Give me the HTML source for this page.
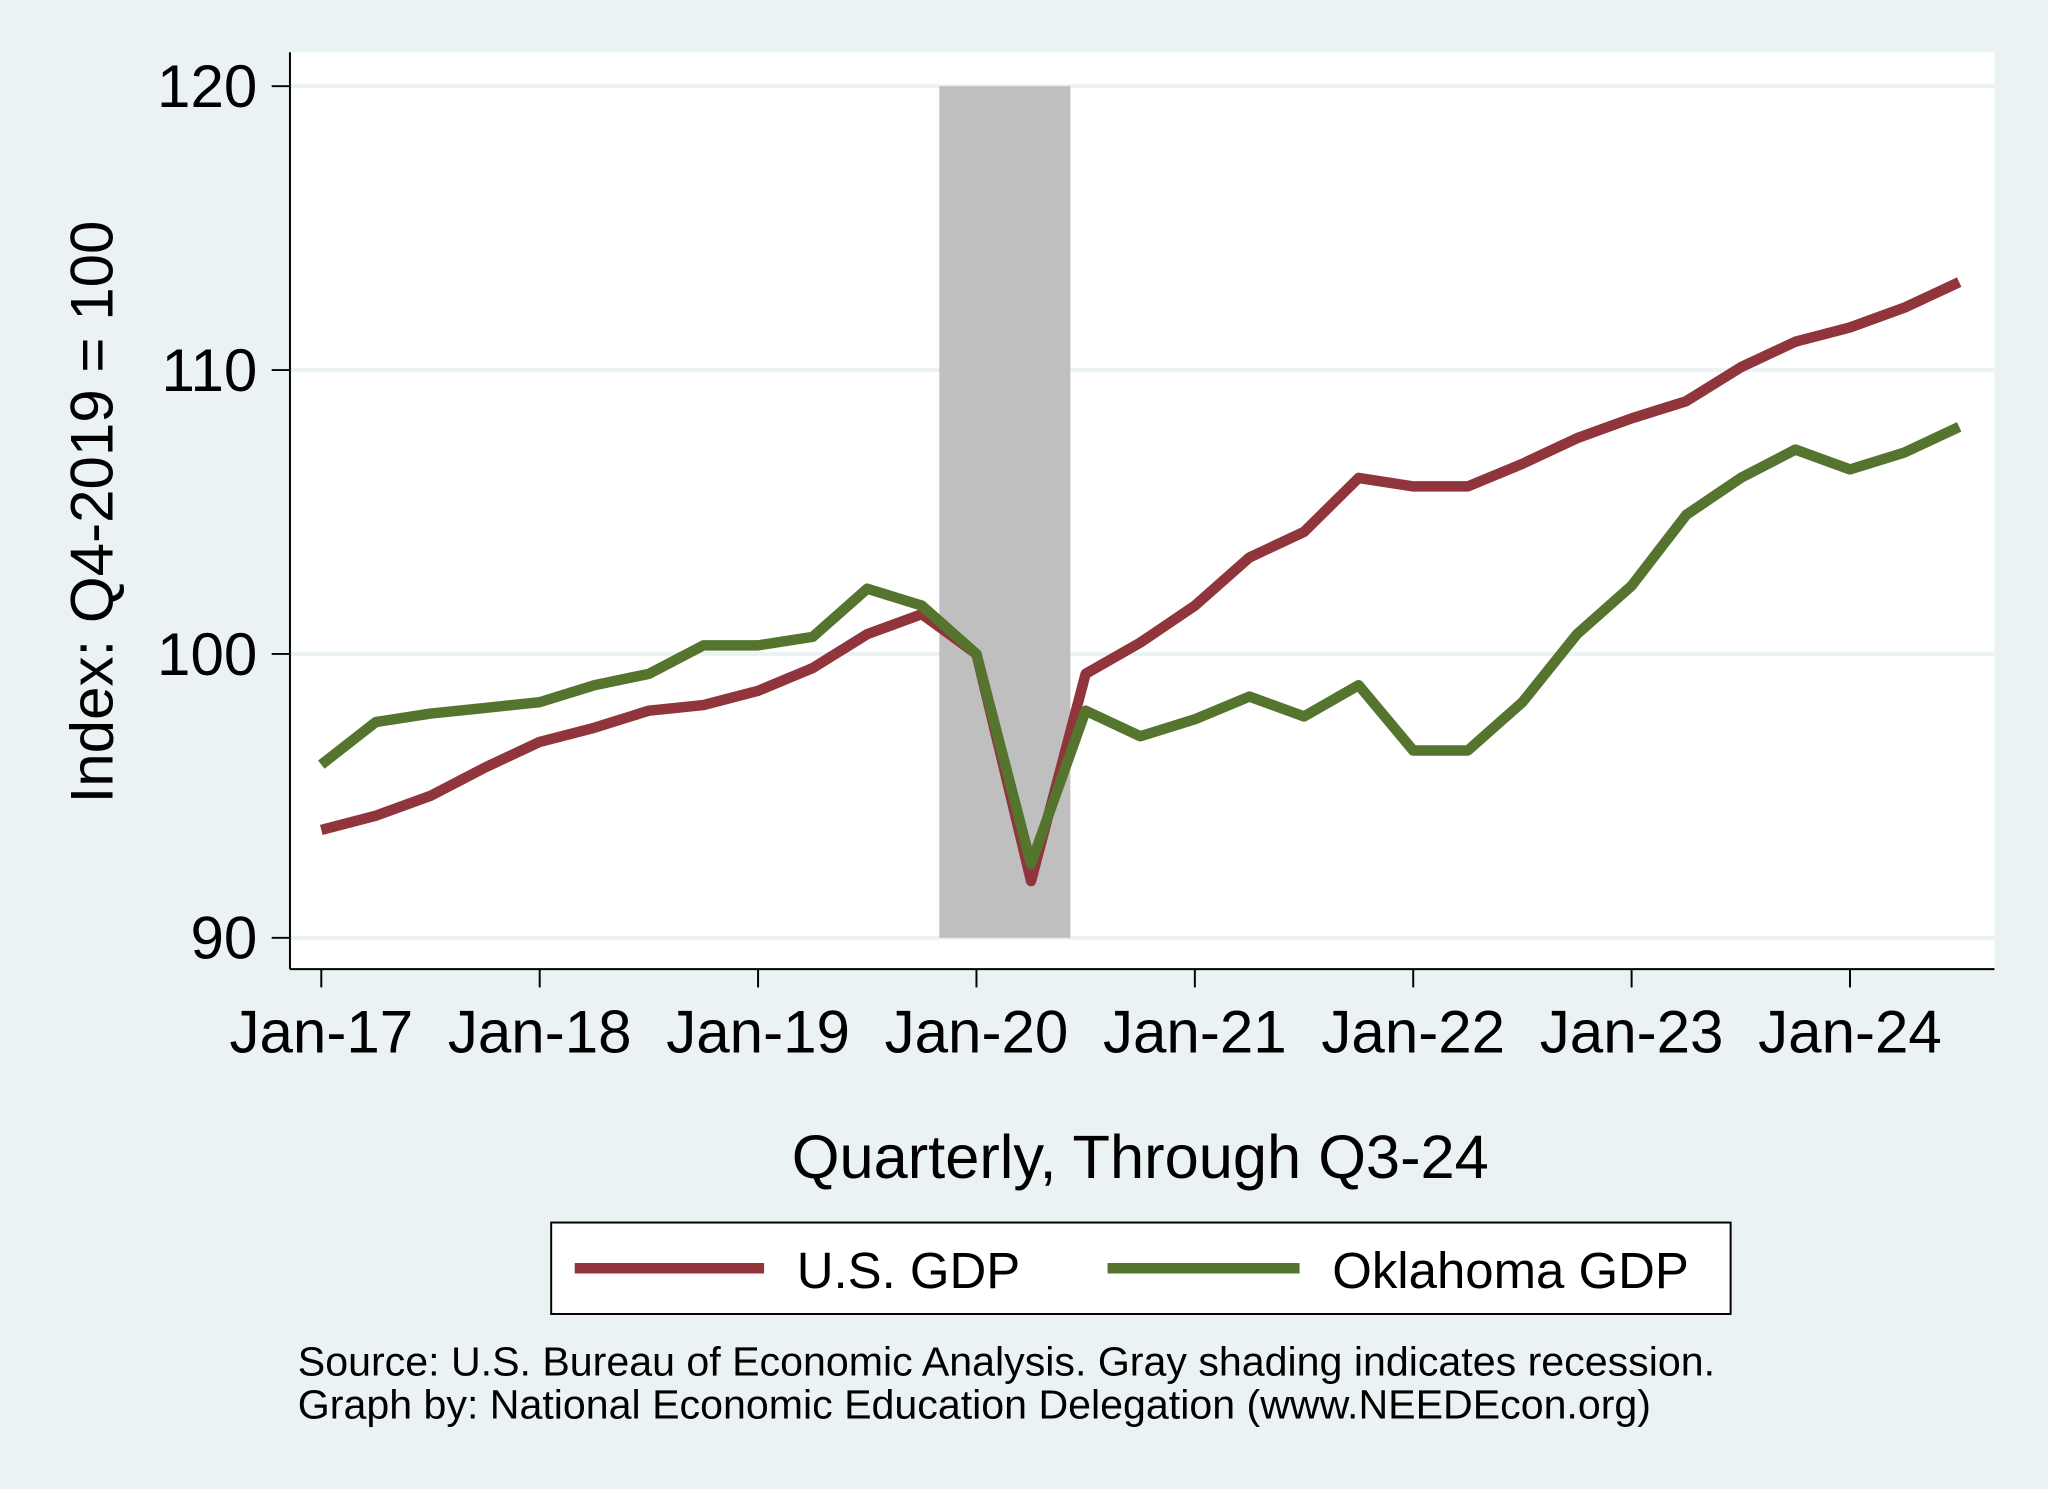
<!DOCTYPE html>
<html><head><meta charset="utf-8"><style>
html,body{margin:0;padding:0;background:#eaf2f3;}
svg{display:block;font-family:"Liberation Sans",Arial,sans-serif;}
</style></head><body>
<svg id="chart" width="2048" height="1489" viewBox="0 0 1568 1140" preserveAspectRatio="none">
<rect x="0" y="0" width="1568" height="1140" fill="#eaf2f3"/>
<rect x="222" y="40" width="1305" height="702" fill="#ffffff"/>
<g id="grid"></g>
<g id="recession"></g>
<g id="series"></g>
<g id="axes"></g>
<text x="86" y="392" font-size="46" text-anchor="middle" transform="rotate(-90 86 392)">Index: Q4-2019 = 100</text>
<text x="873" y="902" font-size="47" text-anchor="middle">Quarterly, Through Q3-24</text>
<g>
<rect x="422" y="936" width="903" height="70" fill="#fff" stroke="#000" stroke-width="1.5"/>
<g>
<line x1="440" y1="971" x2="585" y2="971" stroke="#90353b" stroke-width="8"/>
<text x="610" y="986" font-size="39">U.S. GDP</text></g>
<g>
<line x1="848" y1="971" x2="995" y2="971" stroke="#55752f" stroke-width="8"/>
<text x="1020" y="986" font-size="39">Oklahoma GDP</text></g>
</g>
<text x="228" y="1053" font-size="31.5">Source: U.S. Bureau of Economic Analysis. Gray shading indicates recession.</text>
<text x="228" y="1086" font-size="31.5">Graph by: National Economic Education Delegation (www.NEEDEcon.org)</text>
</svg>
<script>
const usGDP=[93.8,94.3,95.0,96.0,96.9,97.4,98.0,98.2,98.7,99.5,100.7,101.4,100,92.0,99.3,100.4,101.7,103.4,104.3,106.2,105.9,105.9,106.7,107.6,108.3,108.9,110.1,111.0,111.5,112.2,113.1];
const okGDP=[96.1,97.6,97.9,98.1,98.3,98.9,99.3,100.3,100.3,100.6,102.3,101.7,100,92.6,98.0,97.1,97.7,98.5,97.8,98.9,96.6,96.6,98.3,100.7,102.4,104.9,106.2,107.2,106.5,107.1,108.0];
const startYear=2017;
const yTicks=[90,100,110,120];
const xTickLabels=["Jan-17","Jan-18","Jan-19","Jan-20","Jan-21","Jan-22","Jan-23","Jan-24"];
const recessionStart=2019.83, recessionEnd=2020.43;
const NS="http://www.w3.org/2000/svg";
function xs(t){return 246+(t-startYear)*167.2;}
function ys(v){return 718-(v-90)*(652/30);}
function mk(tag,attrs,parent){const e=document.createElementNS(NS,tag);for(const k in attrs)e.setAttribute(k,attrs[k]);document.getElementById(parent).appendChild(e);return e;}
yTicks.forEach(v=>{const g=mk('line',{x1:222,x2:1527,y1:ys(v),y2:ys(v),stroke:'#eaf2f3','stroke-width':3},'grid');

});
const r=mk('rect',{x:xs(recessionStart),y:ys(120),width:xs(recessionEnd)-xs(recessionStart),height:ys(90)-ys(120),fill:'#bfbfbf'},'recession');


function line(data,color,name){const pts=data.map((v,i)=>xs(startYear+i/4).toFixed(1)+','+ys(v).toFixed(1)).join(' ');
const p=mk('polyline',{points:pts,fill:'none',stroke:color,'stroke-width':8,'stroke-linejoin':'round'},'series');

}
line(usGDP,'#90353b','us-gdp-line');
line(okGDP,'#55752f','oklahoma-gdp-line');
const ya=mk('line',{x1:222,x2:222,y1:40,y2:742,stroke:'#000','stroke-width':1.5},'axes');


const xa=mk('line',{x1:222,x2:1527,y1:742,y2:742,stroke:'#000','stroke-width':1.5},'axes');


yTicks.forEach(v=>{const t=mk('line',{x1:208,x2:222,y1:ys(v),y2:ys(v),stroke:'#000','stroke-width':1.5},'axes');


const l=mk('text',{x:197,y:ys(v)+16,'font-size':46,'text-anchor':'end'},'axes');l.textContent=v;

});
xTickLabels.forEach((s,i)=>{const x=xs(startYear+i);const t=mk('line',{x1:x,x2:x,y1:742,y2:756,stroke:'#000','stroke-width':1.5},'axes');


const l=mk('text',{x:x,y:806,'font-size':46,'text-anchor':'middle'},'axes');l.textContent=s;

});
</script>
</body></html>
